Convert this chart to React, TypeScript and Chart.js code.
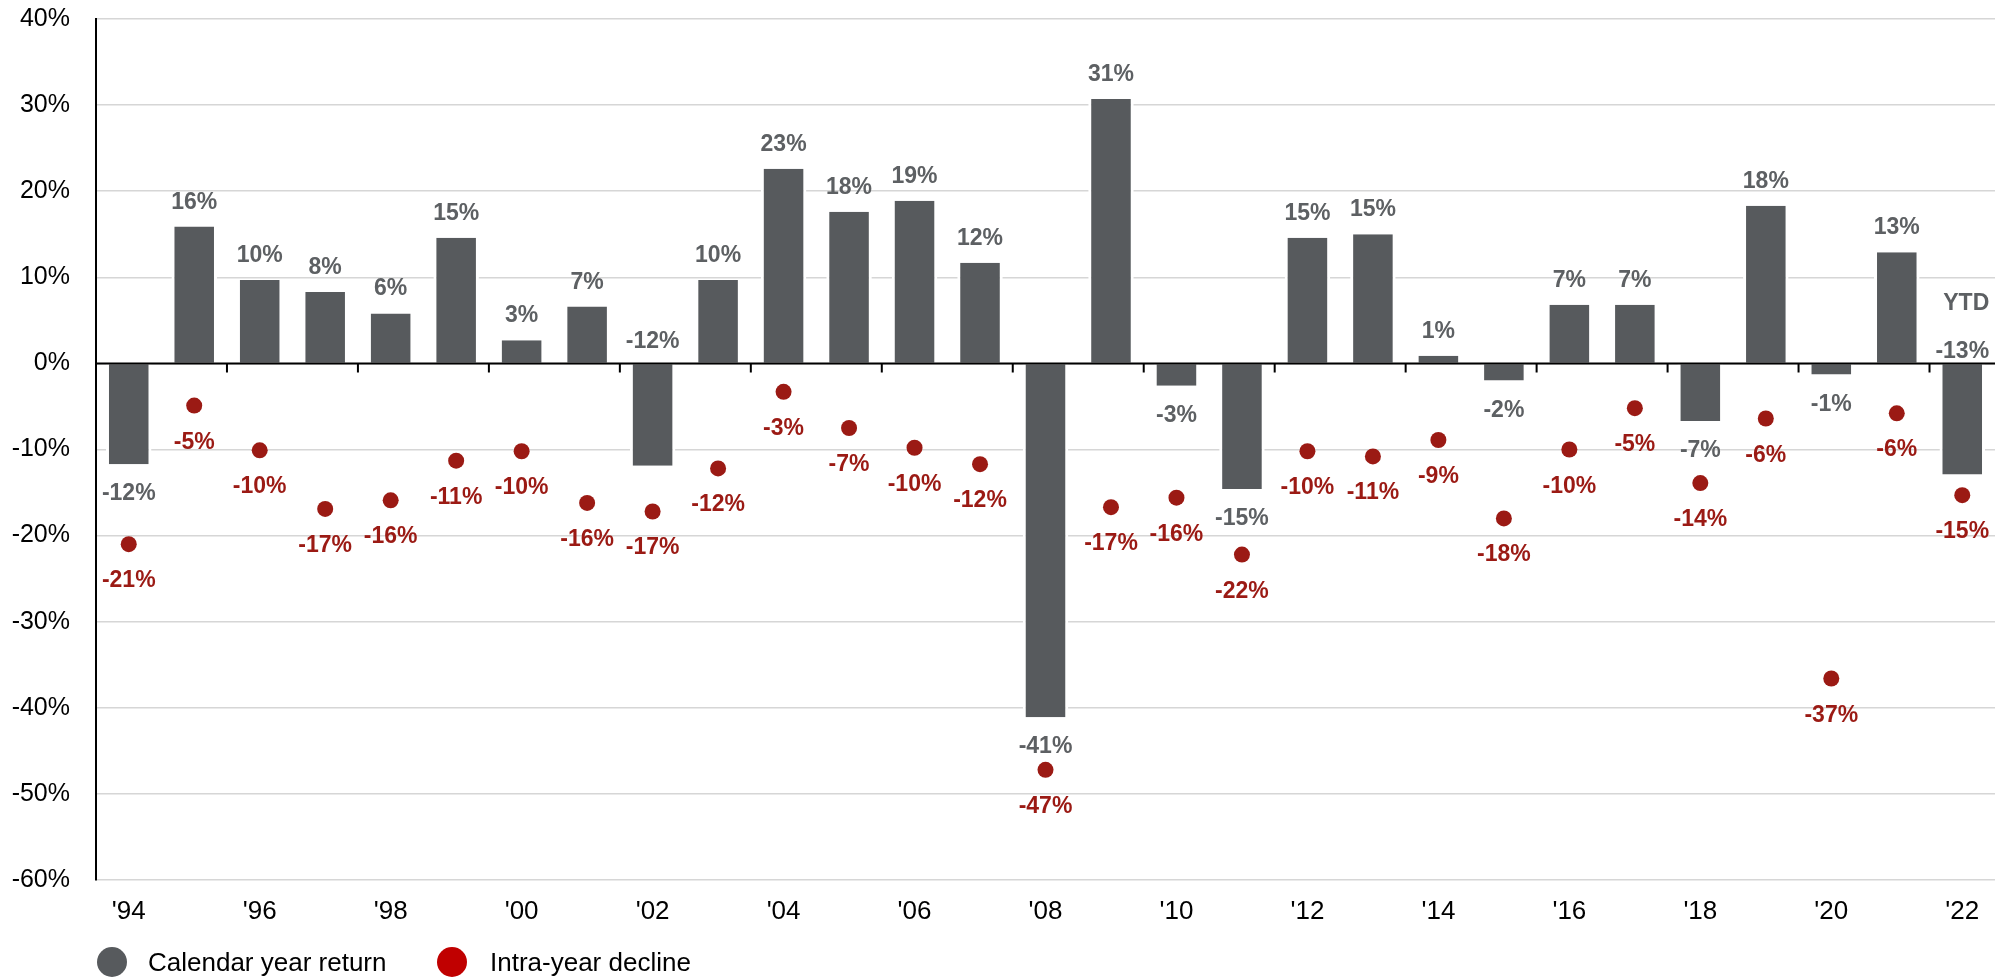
import React, { useEffect, useRef } from "react";
import { Chart, registerables } from "chart.js";

Chart.register(...registerables);

const years = ["'94", "'95", "'96", "'97", "'98", "'99", "'00", "'01", "'02", "'03", "'04", "'05", "'06", "'07", "'08", "'09", "'10", "'11", "'12", "'13", "'14", "'15", "'16", "'17", "'18", "'19", "'20", "'21", "'22"];

const calendarReturns = [-11.7, 15.9, 9.7, 8.3, 5.8, 14.6, 2.7, 6.6, -11.9, 9.7, 22.6, 17.6, 18.9, 11.7, -41.1, 30.7, -2.6, -14.6, 14.6, 15.0, 0.9, -2.0, 6.8, 6.8, -6.7, 18.3, -1.3, 12.9, -12.9];

const intraYearDeclines = [-21.0, -4.9, -10.1, -16.9, -15.9, -11.3, -10.2, -16.2, -17.2, -12.2, -3.3, -7.5, -9.8, -11.7, -47.2, -16.7, -15.6, -22.2, -10.2, -10.8, -8.9, -18.0, -10.0, -5.2, -13.9, -6.4, -36.6, -5.8, -15.3];

const yTicks = [40, 30, 20, 10, 0, -10, -20, -30, -40, -50, -60];

const labelAboveAxis = ["'02", "'22"];
const ytdYear = "'22";
const ytdNote = "YTD";

const seriesNames = ["Calendar year return", "Intra-year decline"];

const BAR_COLOR = "#575a5d";
const BAR_LABEL_COLOR = "#5d6063";
const DOT_COLOR = "#9b1a14";
const LEGEND_RED = "#c00000";
const FONT = '"Liberation Sans", Arial, Helvetica, sans-serif';

const pct = (v: number) => `${Math.round(v)}%`;

const overlayPlugin = {
  id: "overlay",
  afterDatasetsDraw(chart: any) {
    const { ctx, chartArea, scales } = chart;
    const x = scales.x;
    const y = scales.y;
    const y0 = y.getPixelForValue(0);

    ctx.save();
    // zero line and boundary ticks
    ctx.strokeStyle = "#000";
    ctx.lineWidth = 2;
    ctx.beginPath();
    ctx.moveTo(chartArea.left, y0);
    ctx.lineTo(chartArea.right, y0);
    for (let i = 2; i < years.length; i += 2) {
      const bx = (x.getPixelForValue(i - 1) + x.getPixelForValue(i)) / 2;
      ctx.moveTo(bx, y0);
      ctx.lineTo(bx, y0 + 9);
    }
    ctx.stroke();

    ctx.font = `bold 23px ${FONT}`;
    ctx.textAlign = "center";
    ctx.textBaseline = "alphabetic";

    const barMeta = chart.getDatasetMeta(0);
    barMeta.data.forEach((el: any, i: number) => {
      const v = calendarReturns[i];
      const yr = years[i];
      ctx.fillStyle = BAR_LABEL_COLOR;
      let by: number;
      if (labelAboveAxis.includes(yr)) {
        by = yr === ytdYear ? y0 - 5 : y0 - 15;
      } else if (v >= 0) {
        by = el.y - 18;
      } else {
        by = el.y + 36;
      }
      ctx.fillText(pct(v), el.x, by);
      if (yr === ytdYear) {
        ctx.fillText(ytdNote, el.x + 4, by - 48);
      }
    });

    const dotMeta = chart.getDatasetMeta(1);
    dotMeta.data.forEach((el: any, i: number) => {
      ctx.fillStyle = DOT_COLOR;
      ctx.fillText(pct(intraYearDeclines[i]), el.x, el.y + 43);
    });
    ctx.restore();
  },
};

export default function App() {
  const canvasRef = useRef<HTMLCanvasElement | null>(null);

  useEffect(() => {
    document.body.style.margin = "0";
    const canvas = canvasRef.current;
    if (!canvas) return;
    const chart = new Chart(canvas, {
      type: "bar",
      data: {
        labels: years,
        datasets: [
          {
            type: "bar",
            label: seriesNames[0],
            data: calendarReturns,
            backgroundColor: BAR_COLOR,
            borderColor: "#ffffff",
            borderWidth: { left: 3, right: 3, top: 0, bottom: 0 },
            borderSkipped: false,
            barPercentage: 0.695,
            categoryPercentage: 1,
            order: 2,
          } as any,
          {
            type: "line",
            label: seriesNames[1],
            data: intraYearDeclines,
            showLine: false,
            pointRadius: 8,
            pointHoverRadius: 8,
            pointBackgroundColor: DOT_COLOR,
            pointBorderWidth: 0,
            borderColor: DOT_COLOR,
            order: 1,
          } as any,
        ],
      },
      options: {
        responsive: false,
        animation: false,
        layout: { padding: { top: 19, right: 13, bottom: 51, left: 0 } },
        plugins: {
          legend: { display: false },
          tooltip: { enabled: false },
        },
        scales: {
          x: {
            offset: true,
            grid: { display: false, drawTicks: false, offset: true },
            border: { display: false },
            ticks: {
              autoSkip: false,
              maxRotation: 0,
              padding: 16,
              color: "#000",
              font: { family: FONT, size: 26 },
              callback: (_v: any, i: number) => (i % 2 === 0 ? years[i] : ""),
            },
            afterFit: (s: any) => {
              s.height = 47;
              s.paddingLeft = 0;
              s.paddingRight = 0;
            },
          },
          y: {
            min: -60,
            max: 40,
            afterBuildTicks: (s: any) => {
              s.ticks = yTicks.map((v) => ({ value: v }));
            },
            grid: { color: "#d6d6d6", lineWidth: 1.5, drawTicks: false },
            border: { display: true, color: "#000", width: 2 },
            ticks: {
              padding: 26,
              color: "#000",
              font: { family: FONT, size: 25 },
              callback: (v: any) => `${v}%`,
            },
            afterFit: (s: any) => {
              s.width = 96;
              s.paddingTop = 0;
              s.paddingBottom = 0;
            },
          },
        },
      } as any,
      plugins: [overlayPlugin],
    });
    return () => chart.destroy();
  }, []);

  const legendText: React.CSSProperties = {
    position: "absolute",
    top: 947,
    height: 30,
    lineHeight: "30px",
    fontFamily: FONT,
    fontSize: 26,
    color: "#000",
    whiteSpace: "nowrap",
  };
  const dot = (left: number, color: string): React.CSSProperties => ({
    position: "absolute",
    left,
    top: 947,
    width: 30,
    height: 30,
    borderRadius: "50%",
    background: color,
  });

  return (
    <div style={{ position: "relative", width: 2008, height: 978, overflow: "hidden", background: "#fff" }}>
      <canvas ref={canvasRef} width={2008} height={978} style={{ display: "block", width: 2008, height: 978 }} />
      <div style={dot(97, BAR_COLOR)} />
      <div style={{ ...legendText, left: 148 }}>{seriesNames[0]}</div>
      <div style={dot(437, LEGEND_RED)} />
      <div style={{ ...legendText, left: 490 }}>{seriesNames[1]}</div>
    </div>
  );
}
